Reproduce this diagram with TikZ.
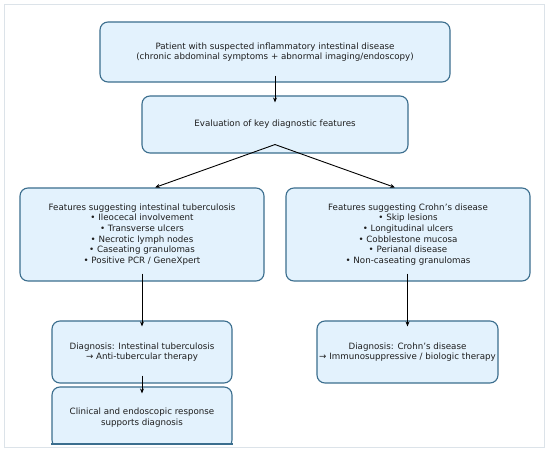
\documentclass[tikz,border=0pt]{standalone}
\usepackage{fontspec}
\setmainfont{DejaVu Sans}
\usetikzlibrary{arrows.meta}
\definecolor{boxfill}{HTML}{E3F2FD}
\definecolor{boxedge}{HTML}{3B6E8E}
\definecolor{frameclr}{HTML}{DCE3E9}
\definecolor{txt}{HTML}{1E1E1E}
\tikzset{
  box/.style={draw=boxedge, fill=boxfill, line width=1.1pt, rounded corners=8pt,
    align=center, inner sep=0pt, text=txt,
    font=\fontsize{8.7pt}{10.6pt}\selectfont},
  arr/.style={-{Stealth[length=5pt,width=4pt]}, line width=0.9pt, draw=black},
}
\begin{document}
\begin{tikzpicture}[x=1pt,y=-1pt]
\useasboundingbox (0,0) rectangle (550,454);
\fill[white] (0,0) rectangle (550,454);
\draw[frameclr, line width=1pt] (4.5,5) rectangle (544.5,448);

\node[box, minimum width=350pt, minimum height=60pt] (p) at (275,52)
  {Patient with suspected inflammatory intestinal disease\\(chronic abdominal symptoms + abnormal imaging/endoscopy)};
\node[box, minimum width=266pt, minimum height=57pt] (e) at (275,124.5)
  {Evaluation of key diagnostic features};
\node[box, minimum width=244pt, minimum height=93pt] (l) at (142,234.5)
  {Features suggesting intestinal tuberculosis\\• Ileocecal involvement\\• Transverse ulcers\\• Necrotic lymph nodes\\• Caseating granulomas\\• Positive PCR / GeneXpert};
\node[box, minimum width=244pt, minimum height=93pt] (r) at (408,234.5)
  {Features suggesting Crohn’s disease\\• Skip lesions\\• Longitudinal ulcers\\• Cobblestone mucosa\\• Perianal disease\\• Non-caseating granulomas};
\node[box, minimum width=180pt, minimum height=62pt] (dtb) at (142,352)
  {Diagnosis: Intestinal tuberculosis\\→ Anti-tubercular therapy};
\node[box, minimum width=181pt, minimum height=62pt] (dcd) at (407.5,352)
  {Diagnosis: Crohn’s disease\\→ Immunosuppressive / biologic therapy};
\begin{scope}
  \clip (0,0) rectangle (550,444.3);
  \node[box, minimum width=180pt, minimum height=61pt] (cl) at (142,417.5)
    {Clinical and endoscopic response\\supports diagnosis};
\end{scope}
\draw[boxedge, line width=1.1pt] (cl.west |- 0,444) -- (cl.east |- 0,444);

\draw[arr] ([yshift=7pt]p.south) -- ([yshift=-7pt]e.north);
\draw[arr] ([yshift=9pt]e.south) -- ([xshift=13pt]l.north);
\draw[arr] ([yshift=9pt]e.south) -- ([xshift=-13pt]r.north);
\draw[arr] ([yshift=8pt]l.south) -- ([yshift=-6pt]dtb.north);
\draw[arr] ([yshift=8pt]r.south -| dcd.north) -- ([yshift=-6pt]dcd.north);
\draw[arr] ([yshift=8pt]dtb.south) -- ([yshift=-7pt]cl.north);
\end{tikzpicture}
\end{document}
